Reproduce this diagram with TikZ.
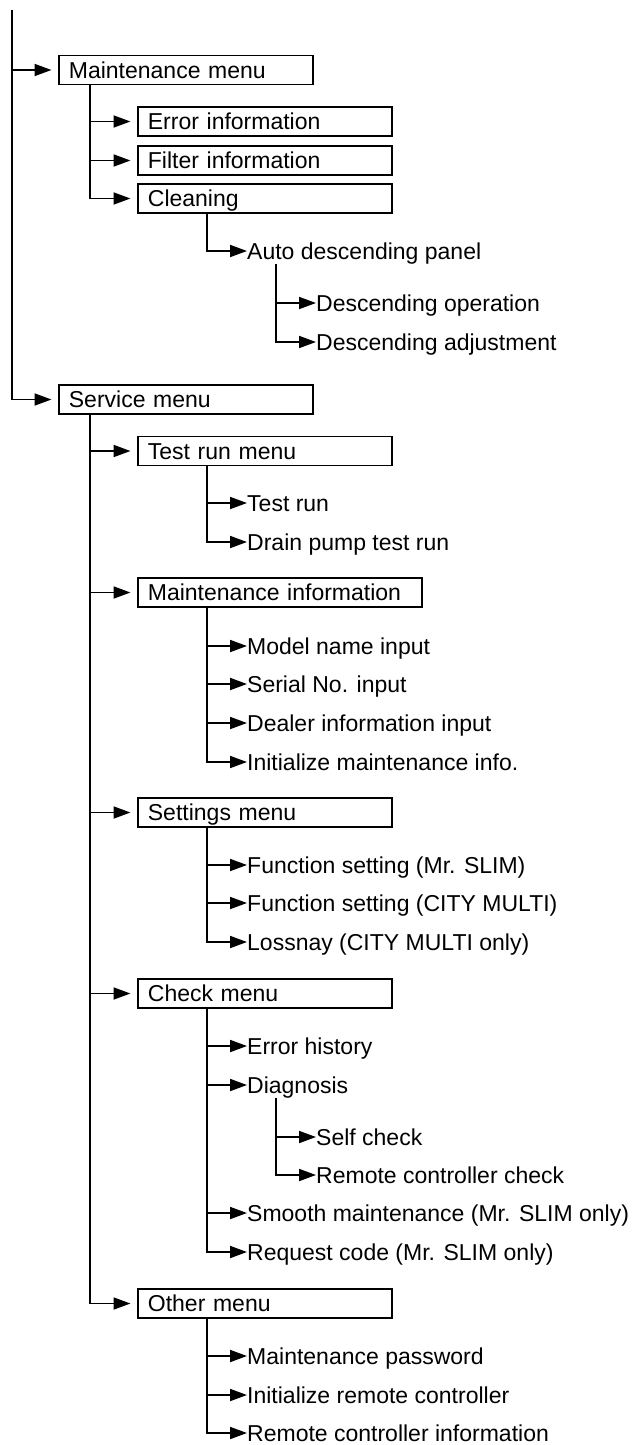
\documentclass[tikz,border=0pt]{standalone}
\usepackage{fontspec}
\setmainfont{Liberation Sans}
\usetikzlibrary{arrows.meta}

\tikzset{
	menubox/.style={draw, line width=1.8pt, anchor=west, inner xsep=10pt, inner ysep=0pt,
		minimum height=29pt, text height=21pt, text depth=4.5pt, text width=234pt, align=left},
	widebox/.style={menubox, text width=264pt},
	menuitem/.style={anchor=west, inner sep=0pt, text height=21pt, text depth=4.5pt},
	branch/.style={line width=1.8pt},
	tobox/.style={branch, -{Triangle[length=17pt,width=12pt]}, shorten >=6.5pt},
	toitem/.style={branch, -{Triangle[length=17pt,width=12pt]}},
}

\begin{document}
\begin{tikzpicture}[x=1pt, y=-1pt, font=\fontsize{23}{27}\selectfont]
		%%%%% START %%%%%
		\useasboundingbox (0,0) rectangle (632,1445);
		
		\coordinate (root) at (12,10);
		\node[menubox] (maint) at (58,70) {Maintenance menu};
		\node[menubox] (serv) at (58,399.5) {Service menu};
		\draw[tobox] (root |- maint.west) -- (maint.west);
		\draw[tobox] (root) |- (serv.west);
		
		% maintenance menu
		\node[menubox] (errinfo) at (137,121.5) {Error information};
		\node[menubox] (filtinfo) at (137,160.5) {Filter information};
		\node[menubox] (clean) at (137,198.5) {Cleaning};
		\coordinate (maintv) at ([xshift=32pt]maint.south west);
		\draw[tobox] (maintv |- errinfo.west) -- (errinfo.west);
		\draw[tobox] (maintv |- filtinfo.west) -- (filtinfo.west);
		\draw[tobox] (maintv) |- (clean.west);
		
		\node[menuitem] (autopanel) at (247,251) {Auto descending panel};
		\coordinate (cleanv) at ([xshift=70pt]clean.south west);
		\draw[toitem] (cleanv) |- (autopanel.west);
		
		\node[menuitem] (descop) at (316,303) {Descending operation};
		\node[menuitem] (descadj) at (316,342) {Descending adjustment};
		\coordinate (autov) at ([xshift=29pt]autopanel.south west);
		\draw[toitem] (autov |- descop.west) -- (descop.west);
		\draw[toitem] (autov) |- (descadj.west);
		
		% service menu
		\node[menubox] (testrun) at (137,451) {Test run menu};
		\node[widebox] (mntinfo) at (137,592.5) {Maintenance information};
		\node[menubox] (settings) at (137,812.5) {Settings menu};
		\node[menubox] (check) at (137,993.5) {Check menu};
		\node[menubox] (other) at (137,1303.5) {Other menu};
		\coordinate (servv) at ([xshift=32pt]serv.south west);
		\draw[tobox] (servv |- testrun.west) -- (testrun.west);
		\draw[tobox] (servv |- mntinfo.west) -- (mntinfo.west);
		\draw[tobox] (servv |- settings.west) -- (settings.west);
		\draw[tobox] (servv |- check.west) -- (check.west);
		\draw[tobox] (servv) |- (other.west);
		
		% test run menu
		\node[menuitem] (trun) at (247,503) {Test run};
		\node[menuitem] (drain) at (247,542) {Drain pump test run};
		\coordinate (testv) at ([xshift=70pt]testrun.south west);
		\draw[toitem] (testv |- trun.west) -- (trun.west);
		\draw[toitem] (testv) |- (drain.west);
		
		% maintenance information
		\node[menuitem] (model) at (247,646) {Model name input};
		\node[menuitem] (serial) at (247,684) {Serial No. input};
		\node[menuitem] (dealer) at (247,723) {Dealer information input};
		\node[menuitem] (initinfo) at (247,762) {Initialize maintenance info.};
		\coordinate (mntv) at ([xshift=70pt]mntinfo.south west);
		\draw[toitem] (mntv |- model.west) -- (model.west);
		\draw[toitem] (mntv |- serial.west) -- (serial.west);
		\draw[toitem] (mntv |- dealer.west) -- (dealer.west);
		\draw[toitem] (mntv) |- (initinfo.west);
		
		% settings menu
		\node[menuitem] (funcslim) at (247,865) {Function setting (Mr. SLIM)};
		\node[menuitem] (funccity) at (247,903) {Function setting (CITY MULTI)};
		\node[menuitem] (lossnay) at (247,942) {Lossnay (CITY MULTI only)};
		\coordinate (setv) at ([xshift=70pt]settings.south west);
		\draw[toitem] (setv |- funcslim.west) -- (funcslim.west);
		\draw[toitem] (setv |- funccity.west) -- (funccity.west);
		\draw[toitem] (setv) |- (lossnay.west);
		
		% check menu
		\node[menuitem] (errhist) at (247,1046) {Error history};
		\node[menuitem] (diag) at (247,1085) {Diagnosis};
		\node[menuitem] (smooth) at (247,1213) {Smooth maintenance (Mr. SLIM only)};
		\node[menuitem] (request) at (247,1252) {Request code (Mr. SLIM only)};
		\coordinate (checkv) at ([xshift=70pt]check.south west);
		\draw[toitem] (checkv |- errhist.west) -- (errhist.west);
		\draw[toitem] (checkv |- diag.west) -- (diag.west);
		\draw[toitem] (checkv |- smooth.west) -- (smooth.west);
		\draw[toitem] (checkv) |- (request.west);
		
		\node[menuitem] (selfchk) at (316,1137) {Self check};
		\node[menuitem] (rcchk) at (316,1175) {Remote controller check};
		\coordinate (diagv) at ([xshift=29pt]diag.south west);
		\draw[toitem] (diagv |- selfchk.west) -- (selfchk.west);
		\draw[toitem] (diagv) |- (rcchk.west);
		
		% other menu
		\node[menuitem] (passwd) at (247,1356) {Maintenance password};
		\node[menuitem] (initrc) at (247,1395) {Initialize remote controller};
		\node[menuitem] (rcinfo) at (247,1433) {Remote controller information};
		\coordinate (otherv) at ([xshift=70pt]other.south west);
		\draw[toitem] (otherv |- passwd.west) -- (passwd.west);
		\draw[toitem] (otherv |- initrc.west) -- (initrc.west);
		\draw[toitem] (otherv) |- (rcinfo.west);
		
		%%%%% END %%%%%
\end{tikzpicture}
\end{document}
